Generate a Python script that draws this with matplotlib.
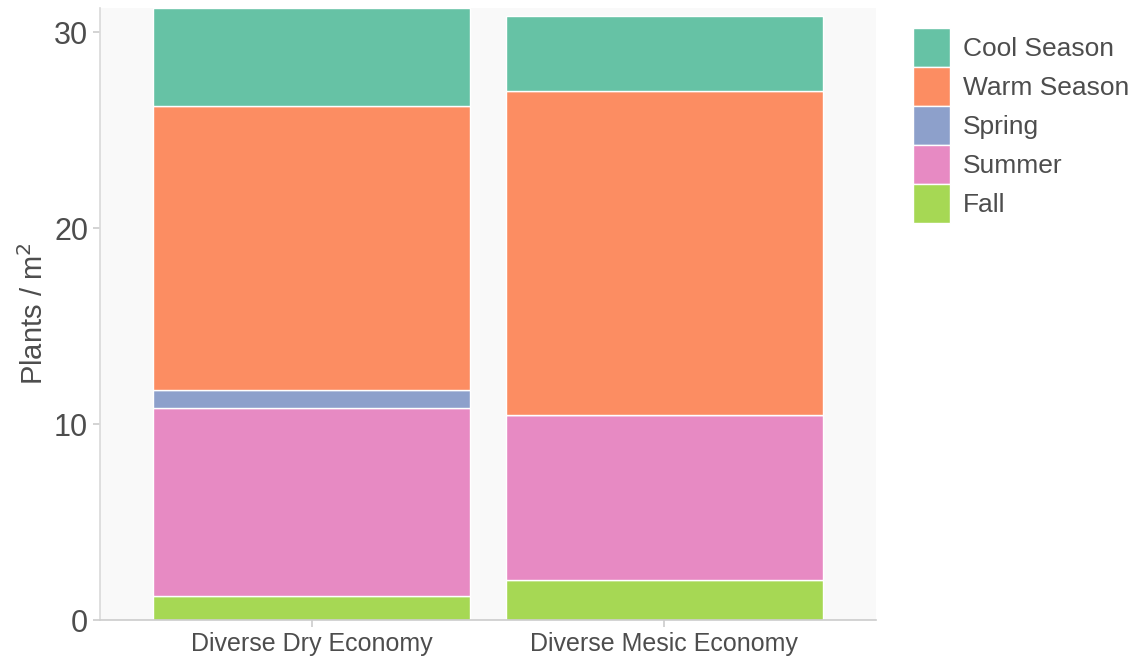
import matplotlib.pyplot as plt
import numpy as np

plt.rcParams['font.family'] = ['Liberation Sans', 'DejaVu Sans']

SITES = ["Diverse Dry Economy", "Diverse Mesic Economy"]
# stacking order, bottom to top
GROUPS = ["Fall", "Summer", "Spring", "Warm Season", "Cool Season"]
FALL = [1.23, 2.04]
SUMMER = [9.6, 8.43]
SPRING = [0.92, 0.0]
WARM = [14.5, 16.56]
COOL = [5.0, 3.83]
CORES = ["#A6D854", "#E78AC3", "#8DA0CB", "#FC8D62", "#66C2A5"]

TXT = "#4D4D4D"


def main():
    fig = plt.figure(figsize=(11.36, 6.62), dpi=100)
    ax = fig.add_axes([100 / 1136, 1 - 620 / 662, 776 / 1136, 612 / 662])
    ax.set_facecolor("#F9F9F9")

    x = np.arange(len(SITES))
    base = np.zeros(len(SITES))
    barras = {}
    for nome, vals, cor in zip(GROUPS, [FALL, SUMMER, SPRING, WARM, COOL], CORES):
        vals = np.array(vals)
        barras[nome] = ax.bar(x, vals, bottom=base, width=0.9, color=cor,
                              edgecolor="white", linewidth=1.0, label=nome)
        base += vals

    ax.set_xlim(-0.6, 1.6)
    ax.set_ylim(0, base.max())
    ax.set_yticks([0, 10, 20, 30])
    ax.set_xticks(x)
    ax.set_xticklabels(SITES)

    for s in ["top", "right"]:
        ax.spines[s].set_visible(False)
    ax.spines["left"].set_color("#D9D9D9")
    ax.spines["bottom"].set_color("#CCCCCC")
    ax.spines["left"].set_linewidth(1.2)
    ax.spines["bottom"].set_linewidth(1.2)
    ax.tick_params(axis="y", colors="#CCCCCC", labelcolor=TXT, labelsize=22, length=5, width=1.2)
    ax.tick_params(axis="x", colors="#CCCCCC", labelcolor=TXT, labelsize=18, length=5, width=1.2)
    ax.set_ylabel("Plants / m$^2$", color=TXT, fontsize=21, labelpad=4)

    handles = [barras[n] for n in GROUPS[::-1]]
    leg = fig.legend(handles, GROUPS[::-1], loc="upper left",
                     bbox_to_anchor=(913 / 1136, 1 - 28 / 662),
                     frameon=False, fontsize=19, handlelength=1.4,
                     handleheight=1.9, labelspacing=0.0, handletextpad=0.5,
                     borderpad=0, borderaxespad=0)
    for t in leg.get_texts():
        t.set_color(TXT)

    fig.savefig("out.png", dpi=100)


if __name__ == '__main__':
    main()
